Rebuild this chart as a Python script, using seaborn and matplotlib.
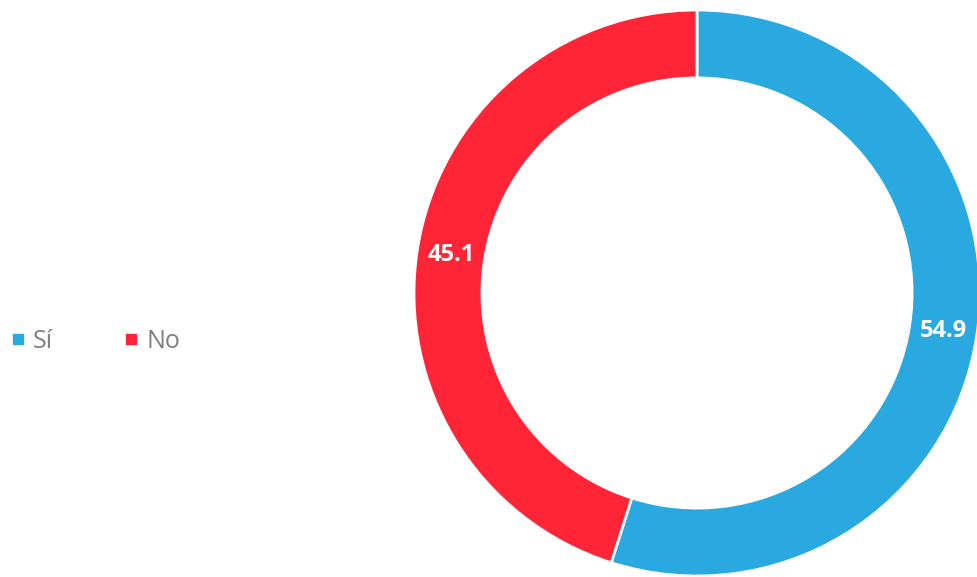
import matplotlib.pyplot as plt
import seaborn as sns
import numpy as np
from matplotlib.lines import Line2D

# Datos
categorias = ["Sí", "No"]
valores = [54.9, 45.1]
colores = ["#29A9E0", "#FF2436"]

sns.set_theme(style="white")
plt.rcParams['font.family'] = ['Open Sans', 'DejaVu Sans']

W, H = 978, 577
fig = plt.figure(figsize=(W / 100, H / 100), dpi=100)

# ejes del anillo, posicionados en píxeles
cx, cy, r = 697, 293, 283
ax = fig.add_axes([(cx - r) / W, (H - cy - r) / H, 2 * r / W, 2 * r / H])

wedges, textos = ax.pie(valores, colors=colores, startangle=90, counterclock=False,
                        radius=1.0, labels=None,
                        wedgeprops=dict(width=0.24, edgecolor="white", linewidth=2))
ax.set_xlim(-1, 1)
ax.set_ylim(-1, 1)
ax.set_aspect("equal")
ax.axis("off")
for w in wedges:
    w.set_clip_on(False)

# etiquetas de valores
for v, w in zip(valores, wedges):
    ang = np.deg2rad((w.theta1 + w.theta2) / 2)
    ax.text(0.88 * np.cos(ang), 0.88 * np.sin(ang), f"{v:.1f}", ha="center", va="center",
            color="white", fontsize=17, fontweight="bold", clip_on=False)

# leyenda
handles = [Line2D([0], [0], marker="s", linestyle="", markersize=7.5,
                  markerfacecolor=c, markeredgecolor=c) for c in colores]
leg = fig.legend(handles, categorias, loc="center left", bbox_to_anchor=(0.0, 1 - 341 / H),
                 ncol=2, frameon=False, fontsize=18, handletextpad=0.32, columnspacing=2.8,
                 handlelength=0.6, borderaxespad=0)
for t in leg.get_texts():
    t.set_color("#7F7F7F")

fig.savefig("out.png", dpi=100)
